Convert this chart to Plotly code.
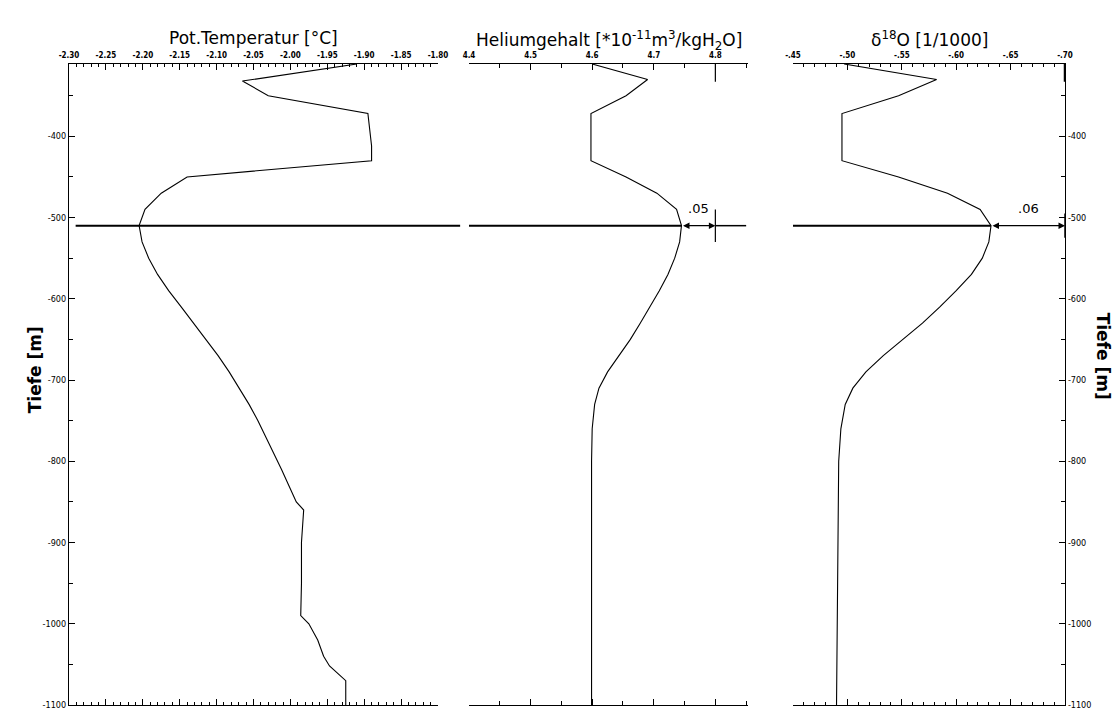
import plotly.graph_objects as go

# ---------------- data ----------------
temp_depth = [-311, -332, -350, -372, -412, -430, -450, -470, -490, -510, -530, -550, -570, -590,
              -610, -630, -650, -670, -690, -710, -730, -750, -770, -790, -810, -830, -850, -860,
              -880, -900, -950, -990, -1000, -1020, -1040, -1052, -1070, -1100]
temp_vals = [-1.91, -2.065, -2.03, -1.895, -1.89, -1.89, -2.14, -2.175, -2.197, -2.205, -2.201, -2.192,
             -2.180, -2.165, -2.148, -2.131, -2.114, -2.098, -2.083, -2.069, -2.056, -2.044, -2.033,
             -2.022, -2.012, -2.002, -1.992, -1.982, -1.983, -1.985, -1.985, -1.986, -1.975, -1.963,
             -1.955, -1.947, -1.925, -1.925]

he_depth = [-311, -330, -350, -372, -430, -450, -470, -490, -510, -530, -550, -570, -590, -610,
            -630, -650, -670, -690, -710, -730, -760, -800, -1100]
he_vals = [4.60, 4.69, 4.655, 4.598, 4.598, 4.655, 4.705, 4.737, 4.745, 4.742, 4.734, 4.723, 4.709,
           4.694, 4.678, 4.662, 4.643, 4.625, 4.611, 4.604, 4.600, 4.599, 4.599]

o18_depth = [-311, -330, -350, -372, -430, -450, -470, -490, -510, -530, -550, -570, -590, -610,
             -630, -650, -670, -690, -710, -730, -760, -800, -1100]
o18_vals = [-0.497, -0.582, -0.547, -0.495, -0.495, -0.547, -0.592, -0.622, -0.632, -0.630, -0.624,
            -0.614, -0.600, -0.585, -0.569, -0.551, -0.533, -0.517, -0.505, -0.498, -0.494,
            -0.492, -0.490]

temp_ticks = [-2.30, -2.25, -2.20, -2.15, -2.10, -2.05, -2.00, -1.95, -1.90, -1.85, -1.80]
temp_ticktext = ["-2.30", "-2.25", "-2.20", "-2.15", "-2.10", "-2.05", "-2.00", "-1.95", "-1.90", "-1.85", "-1.80"]
he_ticks = [4.4, 4.5, 4.6, 4.7, 4.8]
he_ticktext = ["4.4", "4.5", "4.6", "4.7", "4.8"]
o18_ticks = [-0.45, -0.50, -0.55, -0.60, -0.65, -0.70]
o18_ticktext = ["-.45", "-.50", "-.55", "-.60", "-.65", "-.70"]
depth_ticks = [-400, -500, -600, -700, -800, -900, -1000, -1100]
depth_ticktext = ["-400", "-500", "-600", "-700", "-800", "-900", "-1000", "-1100"]

marker_depth = -510
he_diff_label = ".05"
o18_diff_label = ".06"
he_ref = 4.80
o18_ref = -0.70

# ---------------- figure ----------------
W, H = 1120, 712
ML, MR, MT, MB = 61, 63, 56, 10
PW = W - ML - MR


def dom(a, b):
    return [(a - ML) / PW, (b - ML) / PW]


line = dict(color="black", width=1.1)
fig = go.Figure()
fig.add_trace(go.Scatter(x=temp_vals, y=temp_depth, mode="lines", line=line, xaxis="x", yaxis="y"))
fig.add_trace(go.Scatter(x=he_vals, y=he_depth, mode="lines", line=line, xaxis="x2", yaxis="y2"))
fig.add_trace(go.Scatter(x=o18_vals, y=o18_depth, mode="lines", line=line, xaxis="x3", yaxis="y3"))

tickfont = dict(family="DejaVu Sans Condensed", size=8, color="black", weight="bold")
ytickfont = dict(family="DejaVu Sans Condensed", size=9, color="black")

common_x = dict(side="top", showline=True, linecolor="black", linewidth=1.2, mirror="ticks",
                ticks="inside", tickcolor="black", ticklen=6, tickwidth=1, showgrid=False,
                zeroline=False, tickmode="array", tickfont=tickfont, ticklabelstandoff=2)

yrange = [-1100, -311]

fig.update_layout(
    width=W, height=H, margin=dict(l=ML, r=MR, t=MT, b=MB),
    paper_bgcolor="white", plot_bgcolor="white", showlegend=False,
    xaxis=dict(domain=dom(61, 430), range=[-2.30, -1.80], tickvals=temp_ticks, ticktext=temp_ticktext,
               anchor="y",
               minor=dict(dtick=0.01, tick0=-2.30, ticklen=3, ticks="inside", tickcolor="black", showgrid=False),
               **common_x),
    xaxis2=dict(domain=dom(461, 740), range=[4.4, 4.853], tickvals=he_ticks, ticktext=he_ticktext,
                anchor="y2",
                minor=dict(dtick=0.05, tick0=4.4, ticklen=4, ticks="inside", tickcolor="black", showgrid=False),
                **common_x),
    xaxis3=dict(domain=dom(785, 1057), range=[-0.45, -0.70], tickvals=o18_ticks, ticktext=o18_ticktext,
                anchor="y3",
                minor=dict(dtick=0.01, tick0=-0.70, ticklen=3, ticks="inside", tickcolor="black", showgrid=False),
                **common_x),
    yaxis=dict(anchor="x", side="left", range=yrange, tickvals=depth_ticks, ticktext=depth_ticktext,
               showline=True, linecolor="black", linewidth=1.2, ticks="inside", ticklen=6,
               tickcolor="black", showgrid=False, zeroline=False, tickfont=ytickfont,
               minor=dict(dtick=50, tick0=-1100, ticklen=4, ticks="inside", tickcolor="black", showgrid=False)),
    yaxis2=dict(anchor="x2", range=yrange, visible=False, matches="y"),
    yaxis3=dict(anchor="x3", side="right", range=yrange, matches="y", tickvals=depth_ticks,
                ticktext=depth_ticktext, showline=True, linecolor="black", linewidth=1.2,
                ticks="inside", ticklen=6, tickcolor="black", showgrid=False, zeroline=False,
                tickfont=ytickfont,
                minor=dict(dtick=50, tick0=-1100, ticklen=4, ticks="inside", tickcolor="black", showgrid=False)),
)

max_he = max(he_vals)
max_o18 = min(o18_vals)

# horizontal marker lines at the depth of the extremum
lw = dict(color="black", width=2)
fig.add_shape(type="line", xref="x domain", yref="y", x0=0.018, x1=1.06, y0=marker_depth, y1=marker_depth, line=lw)
fig.add_shape(type="line", xref="x2", yref="y2", x0=4.4, x1=max_he, y0=marker_depth, y1=marker_depth, line=lw)
fig.add_shape(type="line", xref="x3", yref="y3", x0=-0.45, x1=max_o18, y0=marker_depth, y1=marker_depth, line=lw)

# difference arrows
fig.add_annotation(x=he_ref, y=marker_depth, ax=max_he, ay=marker_depth, xref="x2", yref="y2",
                   axref="x2", ayref="y2", showarrow=True, arrowhead=2, arrowside="end+start",
                   arrowsize=1, arrowwidth=1.3, arrowcolor="black", text="")
fig.add_shape(type="line", xref="x2", yref="y2", x0=he_ref, x1=4.85, y0=marker_depth, y1=marker_depth,
              line=dict(color="black", width=1.5))
fig.add_shape(type="line", xref="x2", yref="y2", x0=he_ref, x1=he_ref, y0=marker_depth + 20,
              y1=marker_depth - 20, line=dict(color="black", width=1.2))
fig.add_shape(type="line", xref="x2", yref="y2", x0=he_ref, x1=he_ref, y0=-311, y1=-333,
              line=dict(color="black", width=1.2))
fig.add_annotation(x=(max_he + he_ref) / 2, y=marker_depth + 10, xref="x2", yref="y2", text=he_diff_label,
                   showarrow=False, yanchor="bottom", font=dict(family="DejaVu Sans", size=13, color="black"))

fig.add_annotation(x=o18_ref, y=marker_depth, ax=max_o18, ay=marker_depth, xref="x3", yref="y3",
                   axref="x3", ayref="y3", showarrow=True, arrowhead=2, arrowside="end+start",
                   arrowsize=1, arrowwidth=1.3, arrowcolor="black", text="")
fig.add_shape(type="line", xref="x3", yref="y3", x0=o18_ref, x1=o18_ref, y0=marker_depth + 15,
              y1=marker_depth - 15, line=dict(color="black", width=1.5))
fig.add_shape(type="line", xref="x3", yref="y3", x0=o18_ref, x1=o18_ref, y0=-311, y1=-333,
              line=dict(color="black", width=2.5))
fig.add_annotation(x=(max_o18 + o18_ref) / 2, y=marker_depth + 10, xref="x3", yref="y3", text=o18_diff_label,
                   showarrow=False, yanchor="bottom", font=dict(family="DejaVu Sans", size=13, color="black"))

# titles
title_font = dict(family="DejaVu Sans", size=17, color="black")
ty = 1 + (MT - 18) / (H - MT - MB)
fig.add_annotation(x=0.5, y=ty, xref="x domain", yref="paper", text="Pot.Temperatur [°C]",
                   showarrow=False, font=title_font)
fig.add_annotation(x=0.5, y=ty, xref="x2 domain", yref="paper",
                   text="Heliumgehalt [*10<sup>-11</sup>m<sup>3</sup>/kgH<sub>2</sub>O]",
                   showarrow=False, font=title_font)
fig.add_annotation(x=0.5, y=ty, xref="x3 domain", yref="paper", text="δ<sup>18</sup>O [1/1000]",
                   showarrow=False, font=title_font)

# depth axis titles
side_font = dict(family="DejaVu Sans", size=17, color="black", weight="bold")
fig.add_annotation(x=(15 - ML) / PW, y=-688, xref="paper", yref="y", text="Tiefe [m]", textangle=-90,
                   showarrow=False, font=side_font)
fig.add_annotation(x=(1107 - ML) / PW, y=-670, xref="paper", yref="y", text="Tiefe [m]", textangle=90,
                   showarrow=False, font=side_font)

fig.write_html("out.html")
